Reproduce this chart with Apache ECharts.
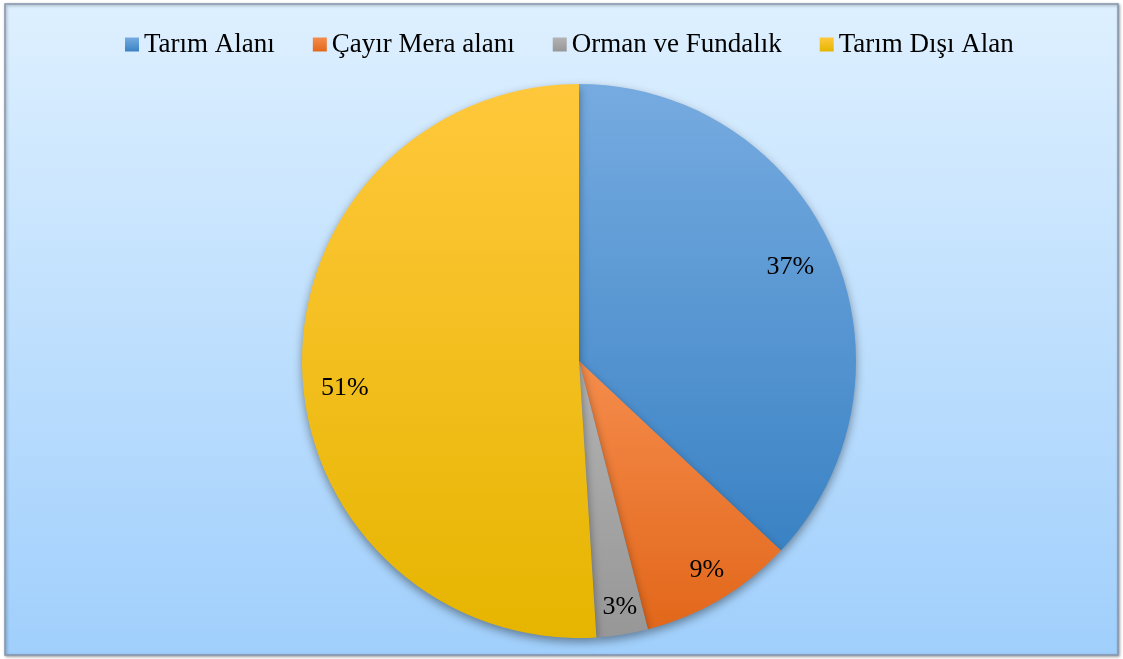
<!DOCTYPE html>
<html>
<head>
<meta charset="utf-8">
<script src="https://cdn.jsdelivr.net/npm/echarts@6/dist/echarts.min.js"></script>
<style>
  html, body { margin: 0; padding: 0; background: #ffffff; }
  #chart { width: 1123px; height: 659px; }
</style>
</head>
<body>
<div id="chart"></div>
<script>
// Land use shares (percent)
const categories = ['Tarım Alanı', 'Çayır Mera alanı', 'Orman ve Fundalık', 'Tarım Dışı Alan'];
const shares = [37, 9, 3, 51];
// top / bottom shade of each slice
const topColors = ['#76abe0', '#f58c4c', '#b3b3b3', '#ffc83c'];
const bottomColors = ['#3a82c4', '#e2671a', '#979797', '#e6b500'];
// nudges for the percentage labels (best-fit placement)
const labelNudges = [[-10, 2], [5, 2], [3, 8], [7, 20]];

const fontFamily = '"Liberation Serif", "Times New Roman", serif';

function grad(i) {
  return new echarts.graphic.LinearGradient(0, 0, 0, 1, [
    { offset: 0, color: topColors[i] },
    { offset: 1, color: bottomColors[i] }
  ]);
}

const pieData = categories.map((name, i) => ({
  name: name,
  value: shares[i],
  itemStyle: { color: grad(i) }
}));

const center = [579, 361];
const R = 277;

const chart = echarts.init(document.getElementById('chart'), null, { renderer: 'canvas' });
chart.setOption({
  animation: false,
  graphic: [{
    type: 'rect',
    z: -10,
    shape: { x: 5, y: 4, width: 1113, height: 651 },
    style: {
      fill: new echarts.graphic.LinearGradient(0, 0, 0, 1, [
        { offset: 0, color: '#def0ff' },
        { offset: 1, color: '#a0cffc' }
      ]),
      stroke: '#8797ad',
      lineWidth: 1.5,
      shadowColor: 'rgba(0,0,0,0.35)',
      shadowBlur: 3,
      shadowOffsetX: 1,
      shadowOffsetY: 1
    }
  }],
  legend: {
    top: 26,
    left: 120,
    icon: 'rect',
    itemWidth: 14,
    itemHeight: 14,
    itemGap: 38,
    textStyle: { fontFamily: fontFamily, fontSize: 27, color: '#000000' },
    data: categories
  },
  series: [
    {
      type: 'pie',
      center: center,
      radius: [0, R],
      startAngle: 90,
      clockwise: true,
      silent: true,
      label: { show: false },
      labelLine: { show: false },
      itemStyle: {
        borderWidth: 0,
        shadowColor: 'rgba(0,0,0,0.4)',
        shadowBlur: 10,
        shadowOffsetY: 4
      },
      data: pieData
    },
    {
      // transparent ring that only carries the percentage labels
      type: 'pie',
      center: center,
      radius: [R * 0.72, R],
      startAngle: 90,
      clockwise: true,
      silent: true,
      legendHoverLink: false,
      itemStyle: { color: 'rgba(0,0,0,0)' },
      label: {
        show: true,
        position: 'inside',
        fontFamily: fontFamily,
        fontSize: 26,
        color: '#000000',
        formatter: p => Math.round(p.percent) + '%'
      },
      labelLine: { show: false },
      data: categories.map((name, i) => ({
        name: name,
        value: shares[i],
        label: { offset: labelNudges[i] }
      }))
    }
  ]
});
</script>
</body>
</html>
